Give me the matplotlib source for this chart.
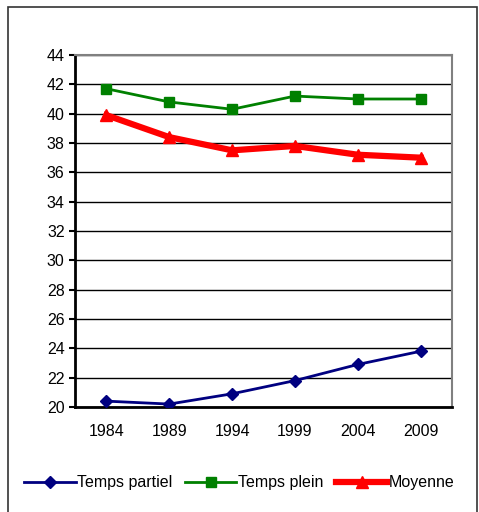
import numpy as np
import matplotlib.pyplot as plt
from matplotlib.patches import Rectangle

plt.rcParams['font.family'] = ['Liberation Sans', 'DejaVu Sans']

years = ['1984', '1989', '1994', '1999', '2004', '2009']
partiel = [20.4, 20.2, 20.9, 21.8, 22.9, 23.8]
plein = [41.7, 40.8, 40.3, 41.2, 41.0, 41.0]
moyenne = [39.9, 38.4, 37.5, 37.8, 37.2, 37.0]

fig = plt.figure(figsize=(4.79, 5.12), dpi=100)
fig.patches.append(Rectangle((8 / 479, -0.01), 469 / 479, 1 - 7 / 512 + 0.01,
                             transform=fig.transFigure, fill=False,
                             edgecolor='#333333', linewidth=1.2))

ax = fig.add_axes([75 / 479, 1 - 407 / 512, 377 / 479, 352 / 512])
x = np.arange(len(years))

ax.plot(x, partiel, color='#000080', marker='D', markersize=6, linewidth=2,
        label='Temps partiel', zorder=3)
ax.plot(x, plein, color='#008000', marker='s', markersize=7, linewidth=2,
        label='Temps plein', zorder=3)
ax.plot(x, moyenne, color='#ff0000', marker='^', markersize=8, linewidth=4.5,
        label='Moyenne', zorder=3)

ax.set_xlim(-0.5, 5.5)
ax.set_ylim(20, 44)
ax.set_yticks(np.arange(20, 45, 2))
ax.set_xticks(x)
ax.set_xticklabels(years)
ax.tick_params(axis='both', labelsize=11.5, length=4, width=1.5, color='black')
ax.tick_params(axis='x', length=0, pad=12)
ax.yaxis.grid(True, color='black', linewidth=1)
ax.set_axisbelow(True)

for side in ['left', 'bottom']:
    ax.spines[side].set_linewidth(2)
    ax.spines[side].set_color('black')
for side in ['right', 'top']:
    ax.spines[side].set_linewidth(1.5)
    ax.spines[side].set_color('#808080')

fig.legend(loc='center', bbox_to_anchor=(0.5, 1 - 483 / 512), ncol=3,
           frameon=False, fontsize=11.5, handlelength=3.2, handletextpad=0.1,
           columnspacing=0.8)

fig.savefig('out.png', dpi=100)
